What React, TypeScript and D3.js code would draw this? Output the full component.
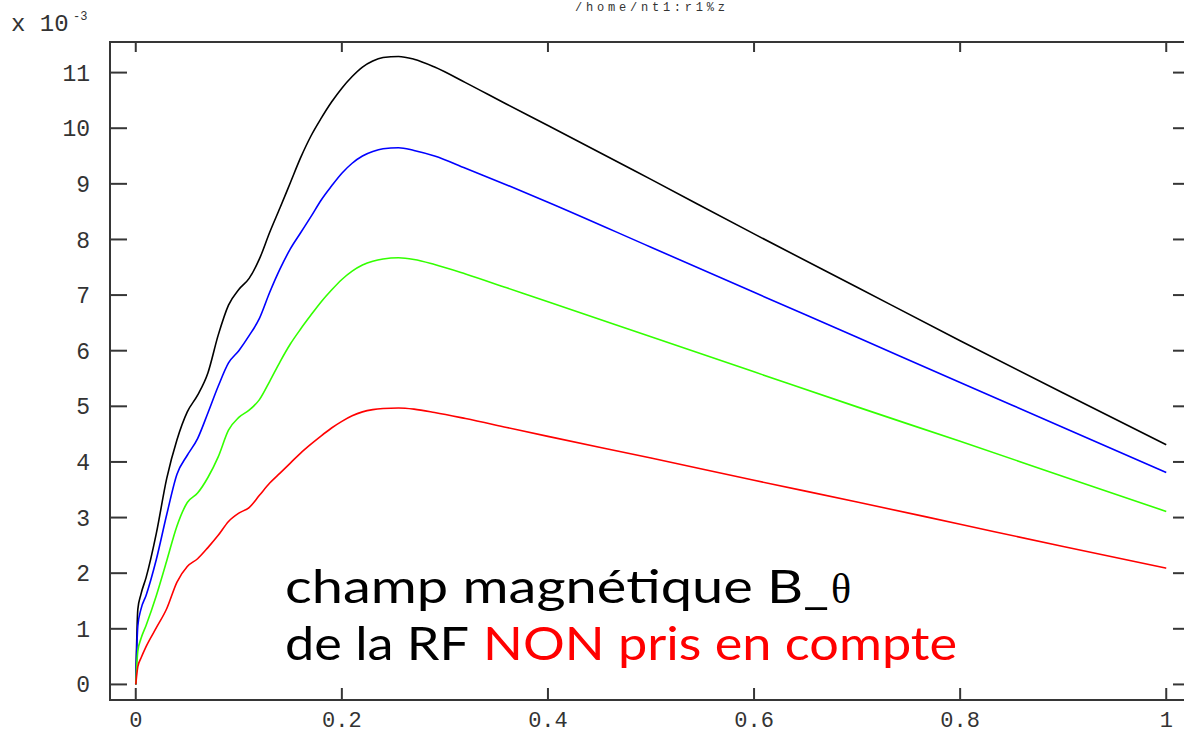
import React, { useEffect, useRef } from "react";
import * as d3 from "d3";

// radial position (normalised) where each profile was read
const xs = [
  0, 0.002, 0.005, 0.01, 0.02, 0.03, 0.04, 0.05, 0.06, 0.07, 0.08, 0.09, 0.1,
  0.11, 0.12, 0.13, 0.14, 0.15, 0.16, 0.17, 0.18, 0.19, 0.2, 0.21, 0.22, 0.23,
  0.24, 0.255, 0.27, 0.29, 0.32, 0.36, 0.4, 0.5, 0.6, 0.7, 0.8, 0.9, 1.0,
];

// B_theta values, in units of 1e-3
const black = [
  0, 1.35, 1.62, 1.92, 2.72, 3.7, 4.4, 4.9, 5.2, 5.6, 6.28, 6.82, 7.1, 7.3,
  7.65, 8.13, 8.57, 9.02, 9.47, 9.86, 10.18, 10.47, 10.72, 10.93, 11.1, 11.21,
  11.27, 11.29, 11.24, 11.1, 10.82, 10.43, 10.05, 9.08, 8.1, 7.14, 6.18, 5.24,
  4.31,
];
const blue = [
  0, 1.05, 1.35, 1.6, 2.25, 3.05, 3.78, 4.12, 4.42, 4.88, 5.36, 5.78, 6.0,
  6.27, 6.58, 7.05, 7.47, 7.83, 8.12, 8.41, 8.71, 8.96, 9.19, 9.37, 9.5, 9.58,
  9.63, 9.65, 9.6, 9.5, 9.28, 8.98, 8.67, 7.86, 7.05, 6.24, 5.43, 4.62, 3.81,
];
const green = [
  0, 0.6, 0.82, 1.06, 1.6, 2.22, 2.85, 3.27, 3.44, 3.72, 4.09, 4.57, 4.8,
  4.93, 5.12, 5.45, 5.8, 6.12, 6.39, 6.64, 6.88, 7.09, 7.28, 7.43, 7.54, 7.61,
  7.65, 7.67, 7.64, 7.55, 7.38, 7.13, 6.88, 6.25, 5.62, 4.99, 4.37, 3.74, 3.11,
];
const red = [
  0, 0.32, 0.47, 0.68, 1.02, 1.36, 1.84, 2.12, 2.26, 2.46, 2.68, 2.93, 3.08,
  3.18, 3.4, 3.62, 3.8, 3.98, 4.16, 4.32, 4.47, 4.61, 4.73, 4.83, 4.9, 4.94,
  4.96, 4.97, 4.95, 4.89, 4.78, 4.62, 4.46, 4.07, 3.67, 3.28, 2.88, 2.48, 2.09,
];

const xTicks = [0, 0.2, 0.4, 0.6, 0.8, 1];
const xTickLabels = ["0", "0.2", "0.4", "0.6", "0.8", "1"];
const yTicks = [0, 1, 2, 3, 4, 5, 6, 7, 8, 9, 10, 11];

const title = "/home/nt1:r1%z";
const line1 = "champ magnétique B_";
const line2a = "de la RF";
const line2b = "NON pris en compte";

const series = [
  { name: "c1", color: "#000000", values: black },
  { name: "c2", color: "#0000ff", values: blue },
  { name: "c3", color: "#33ff00", values: green },
  { name: "c4", color: "#ff0000", values: red },
];

const W = 1184;
const H = 734;

const Chart = () => {
  const svgRef = useRef(null);

  useEffect(() => {
    const svg = d3.select(svgRef.current);
    svg.selectAll("*").remove();

    // frame runs a little past the data on every side (right edge is clipped)
    const x = d3.scaleLinear().domain([-0.025, 1.025]).range([110, 1192]);
    const y = d3.scaleLinear().domain([-0.28, 11.55]).range([700, 42]);

    const axisColor = "#363636";
    const mono = "'Liberation Mono', 'DejaVu Sans Mono', monospace";

    svg
      .append("rect")
      .attr("x", x(-0.025))
      .attr("y", y(11.55))
      .attr("width", x(1.025) - x(-0.025))
      .attr("height", y(-0.28) - y(11.55))
      .attr("fill", "none")
      .attr("stroke", axisColor)
      .attr("stroke-width", 2);

    // ticks on all four sides, pointing inward
    xTicks.forEach((t) => {
      svg.append("line")
        .attr("x1", x(t)).attr("x2", x(t))
        .attr("y1", y(-0.28)).attr("y2", y(-0.28) - 12)
        .attr("stroke", axisColor).attr("stroke-width", 2);
      svg.append("line")
        .attr("x1", x(t)).attr("x2", x(t))
        .attr("y1", y(11.55)).attr("y2", y(11.55) + 10)
        .attr("stroke", axisColor).attr("stroke-width", 2);
    });
    yTicks.forEach((t) => {
      svg.append("line")
        .attr("x1", x(-0.025)).attr("x2", x(-0.025) + 17)
        .attr("y1", y(t)).attr("y2", y(t))
        .attr("stroke", axisColor).attr("stroke-width", 2);
      svg.append("line")
        .attr("x1", x(1.025)).attr("x2", x(1.025) - 19)
        .attr("y1", y(t)).attr("y2", y(t))
        .attr("stroke", axisColor).attr("stroke-width", 2);
    });

    // tick labels
    svg.append("g")
      .selectAll("text")
      .data(xTicks)
      .join("text")
      .attr("x", (d) => x(d))
      .attr("y", 727)
      .attr("text-anchor", "middle")
      .attr("font-family", mono)
      .attr("font-size", 22)
      .attr("fill", "#333")
      .text((d, i) => xTickLabels[i]);

    svg.append("g")
      .selectAll("text")
      .data(yTicks)
      .join("text")
      .attr("x", 90)
      .attr("y", (d) => y(d))
      .attr("dy", "0.35em")
      .attr("text-anchor", "end")
      .attr("font-family", mono)
      .attr("font-size", 23)
      .attr("fill", "#333")
      .text((d) => String(d));

    // exponent label
    svg.append("text")
      .attr("x", 11).attr("y", 31)
      .attr("font-family", mono).attr("font-size", 24).attr("fill", "#333")
      .text("x 10");
    svg.append("text")
      .attr("x", 73).attr("y", 20)
      .attr("font-family", mono).attr("font-size", 12).attr("fill", "#333")
      .text("-3");

    svg.append("text")
      .attr("x", 650).attr("y", 11)
      .attr("text-anchor", "middle")
      .attr("font-family", mono).attr("font-size", 12).attr("fill", "#333")
      .attr("textLength", 150).attr("lengthAdjust", "spacing")
      .text(title);

    // profiles
    const line = d3
      .line()
      .x((d) => x(d[0]))
      .y((d) => y(d[1]))
      .curve(d3.curveMonotoneX);

    series.forEach((s) => {
      svg.append("path")
        .datum(xs.map((v, i) => [v, s.values[i]]))
        .attr("fill", "none")
        .attr("stroke", s.color)
        .attr("stroke-width", 1.6)
        .attr("d", line);
    });

    // annotation
    const sans = "Lato, 'Open Sans', sans-serif";
    svg.append("text")
      .attr("x", 285).attr("y", 603)
      .attr("font-family", sans).attr("font-size", 46).attr("fill", "#000")
      .attr("textLength", 544).attr("lengthAdjust", "spacingAndGlyphs")
      .text(line1);
    svg.append("text")
      .attr("x", 831).attr("y", 603)
      .attr("font-family", "'Liberation Serif', 'DejaVu Serif', serif")
      .attr("font-size", 42).attr("fill", "#000")
      .text("θ");
    svg.append("text")
      .attr("x", 285).attr("y", 660)
      .attr("font-family", sans).attr("font-size", 46).attr("fill", "#000")
      .attr("textLength", 184).attr("lengthAdjust", "spacingAndGlyphs")
      .text(line2a);
    svg.append("text")
      .attr("x", 483).attr("y", 660)
      .attr("font-family", sans).attr("font-size", 46).attr("fill", "#ff0000")
      .attr("textLength", 474).attr("lengthAdjust", "spacingAndGlyphs")
      .text(line2b);
  }, []);

  return (
    <svg
      ref={svgRef}
      width={W}
      height={H}
      style={{ position: "absolute", left: 0, top: 0, display: "block", background: "#fff" }}
    />
  );
};

export default function App() {
  return <Chart />;
}
